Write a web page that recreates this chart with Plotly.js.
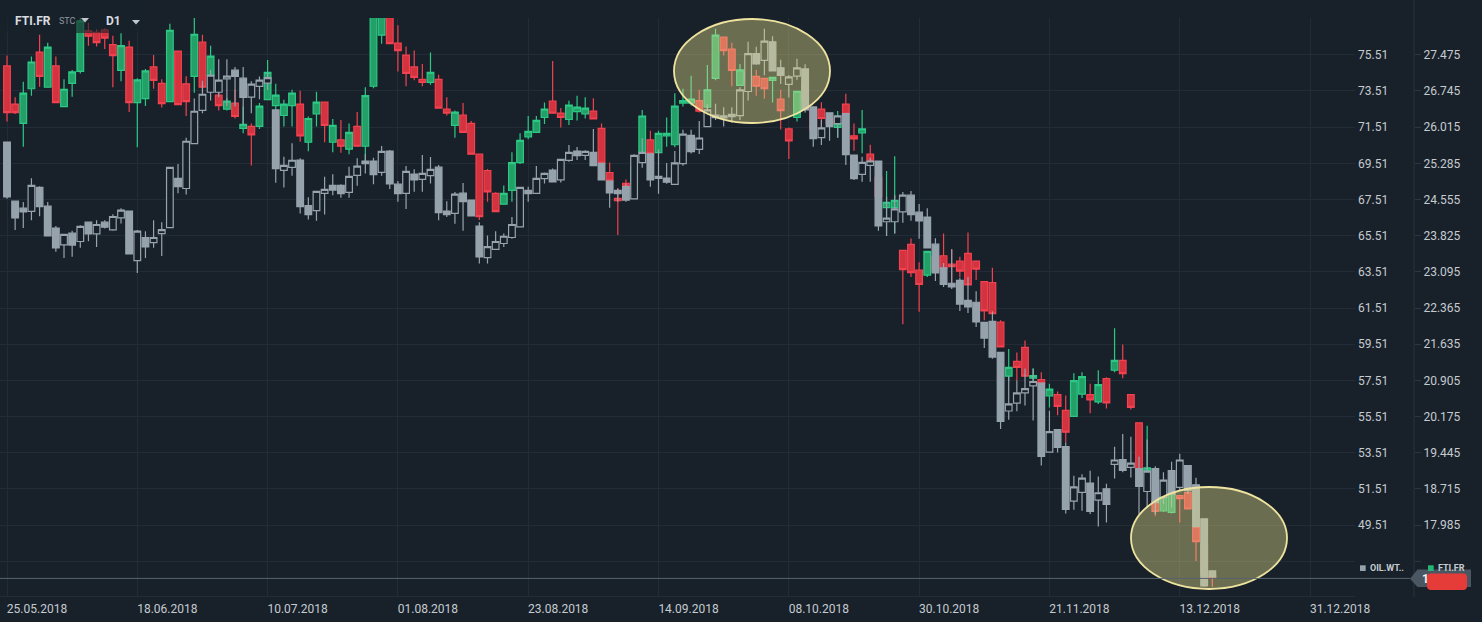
<!DOCTYPE html>
<html>
<head>
<meta charset="utf-8">
<script src="https://cdn.plot.ly/plotly-3.0.1.min.js"></script>
<style>
  html, body { margin: 0; padding: 0; background: #18212a; }
  #chart { width: 1482px; height: 622px; }
</style>
</head>
<body>
<div id="chart"></div>
<script>
// ---------------- DATA ----------------
// Daily candles (trading days starting 25.05.2018)
const oilOpen  = [70.69,67.42,67.03,66.85,68.18,67.14,65.93,65.00,65.65,65.19,66.26,65.61,66.26,65.83,66.50,66.87,64.13,65.41,65.13,65.63,65.96,68.68,68.12,70.60,72.44,73.44,73.44,74.18,74.66,74.22,73.17,73.76,73.94,72.46,69.12,69.29,69.69,67.18,66.90,67.85,68.29,68.29,67.90,68.84,69.64,69.64,69.01,70.19,68.36,67.85,68.92,68.62,68.83,69.30,66.87,66.74,67.86,67.48,66.04,64.30,64.75,65.08,65.41,66.00,68.01,67.85,68.66,69.14,68.60,69.67,70.19,69.95,70.12,69.51,68.53,68.01,68.22,67.55,69.55,70.03,68.68,68.70,68.35,69.49,71.06,70.28,71.54,72.17,72.02,72.09,72.15,73.48,75.58,75.20,76.23,74.79,73.87,74.33,74.73,72.63,70.93,72.30,71.71,72.26,69.97,68.90,69.40,69.64,66.28,66.28,66.83,67.75,66.81,66.54,65.04,63.73,62.88,63.04,61.94,61.83,60.72,60.77,59.06,55.82,56.25,56.82,57.21,57.36,53.55,54.79,53.85,50.84,51.32,51.84,50.89,51.52,52.87,53.13,52.70,52.63,51.37,52.63,51.04,52.52,51.60,52.80,51.74,49.86,46.98];
const oilHigh  = [70.70,67.42,67.37,68.68,68.25,67.37,66.04,65.58,65.78,66.09,66.26,66.37,66.37,66.70,67.03,66.87,65.82,65.76,66.37,66.26,69.30,69.47,70.93,73.09,74.07,74.68,75.27,75.27,74.83,74.83,74.05,74.31,74.49,72.47,69.88,70.62,69.79,67.63,67.96,68.77,68.90,68.36,69.32,69.79,70.03,69.82,70.47,70.25,68.53,69.36,69.18,69.97,69.86,69.42,67.42,67.92,68.42,67.49,66.26,65.52,65.76,65.63,66.54,68.19,68.22,69.36,69.01,69.23,69.77,70.52,70.41,70.23,71.41,69.52,68.54,68.12,68.40,70.01,70.89,70.04,70.28,69.53,70.19,71.36,71.36,71.85,72.80,72.80,72.61,72.61,73.72,76.23,75.95,76.95,76.53,75.23,74.40,75.29,74.99,72.64,71.91,72.31,72.14,72.27,69.98,69.88,69.82,69.65,67.66,67.75,67.92,67.98,67.26,67.03,65.37,64.00,64.76,63.19,63.23,62.44,60.73,61.33,59.07,57.74,57.50,58.17,58.15,57.37,55.84,54.80,54.09,52.24,52.33,52.52,52.20,51.80,53.85,54.55,54.40,53.29,54.24,52.76,52.43,53.02,53.46,52.81,52.13,49.87,47.01];
const oilLow   = [67.55,65.82,65.94,66.37,66.59,65.50,64.62,64.28,64.34,64.84,65.20,64.89,65.91,65.78,66.18,64.47,63.45,64.28,64.84,64.39,65.95,67.85,67.79,70.59,72.28,72.98,73.17,72.65,72.65,71.69,72.28,73.05,73.57,68.44,68.18,68.83,66.74,66.41,66.33,66.68,67.75,67.61,67.61,68.27,68.95,68.35,68.83,68.09,67.39,66.98,67.94,67.94,68.40,66.37,66.55,66.17,65.78,66.60,63.97,63.97,64.73,64.89,65.34,65.99,67.39,67.84,68.40,68.48,68.45,69.60,69.69,69.69,69.37,68.58,67.05,67.39,67.39,67.54,69.27,68.22,67.83,68.38,68.34,69.38,70.06,70.03,71.53,71.91,71.54,71.76,71.91,72.98,74.96,74.38,74.61,73.90,73.15,74.13,72.32,70.43,70.52,70.76,70.93,69.42,68.59,68.49,68.49,65.78,65.50,65.63,66.22,66.33,65.34,64.83,63.01,62.68,62.57,61.35,61.24,60.46,59.30,58.71,54.83,55.33,55.80,56.12,55.29,52.80,53.54,53.53,50.15,50.36,50.30,50.12,49.43,49.65,52.09,52.43,52.15,50.12,50.49,50.12,50.67,50.49,51.41,51.23,49.42,46.11,46.52];
const oilClose = [67.66,66.50,66.83,68.29,67.11,65.50,64.84,65.58,64.99,66.02,65.61,66.13,65.98,66.57,66.92,64.50,65.76,64.89,65.41,65.85,69.29,68.22,70.73,72.39,73.33,74.38,74.11,74.33,74.31,73.15,73.89,74.11,74.25,69.21,69.40,69.68,67.11,66.68,67.96,68.07,68.03,67.83,68.79,69.36,69.49,68.88,70.17,68.38,67.83,69.07,68.60,68.95,69.18,66.78,66.67,67.81,67.39,66.61,64.34,64.91,65.19,65.48,66.13,68.18,67.83,68.68,68.95,68.49,69.73,70.12,69.93,70.17,69.38,68.59,67.88,67.83,67.48,69.95,70.12,68.59,68.79,68.47,69.53,71.12,70.15,70.91,72.46,72.04,72.13,72.22,73.57,75.57,75.01,76.27,74.62,74.37,74.29,74.79,72.46,70.88,71.47,71.54,72.13,69.99,68.66,69.56,69.64,66.05,66.48,66.99,67.75,66.67,66.33,64.84,63.45,62.82,62.68,61.73,61.57,60.74,59.85,58.80,55.25,56.21,56.82,57.06,57.45,53.31,54.68,53.81,50.38,51.63,52.11,50.27,51.30,50.65,53.11,52.54,52.94,51.65,52.50,50.76,52.00,51.23,53.11,51.41,49.43,46.15,46.65];

const ftiOpen  = [27.25,26.48,26.09,26.79,27.53,26.82,27.25,26.43,26.90,27.14,27.96,27.93,27.98,27.68,27.16,27.63,26.51,26.59,27.23,26.90,26.53,27.55,26.89,27.04,27.73,27.06,26.66,26.38,26.50,25.99,26.03,26.03,26.57,26.45,26.25,26.45,26.48,25.71,26.28,26.52,25.71,25.76,25.57,26.03,25.63,26.84,27.87,28.35,27.71,27.47,27.23,26.98,26.92,26.98,26.38,26.05,26.26,26.09,25.47,25.14,24.68,24.46,24.74,25.30,25.82,25.91,26.21,26.54,26.30,26.17,26.33,26.28,26.34,25.99,25.10,24.58,24.88,24.88,25.50,25.76,25.50,25.84,25.66,26.50,26.50,26.55,26.42,27.00,27.83,27.59,26.86,26.95,27.04,27.00,26.96,26.58,25.98,26.21,26.90,26.36,26.38,26.20,26.01,26.48,25.84,25.90,25.47,25.00,24.39,24.39,23.53,23.65,23.13,23.03,23.40,23.42,23.25,23.31,23.47,23.31,22.90,22.88,22.08,20.99,21.29,21.57,20.95,20.92,20.59,20.62,20.30,20.18,20.63,20.62,20.47,20.94,21.11,21.31,20.62,20.05,19.08,18.48,18.27,18.24,18.58,18.64,17.94,17.60,16.96];
const ftiHigh  = [27.46,26.62,26.93,27.44,27.88,27.72,27.44,26.98,27.17,28.25,28.12,27.99,28.01,27.86,27.91,27.76,27.00,27.19,27.47,26.98,28.10,27.56,27.04,28.25,27.88,27.66,26.77,26.60,26.77,26.43,26.09,26.50,27.37,26.89,26.57,26.77,26.75,26.23,26.73,26.53,26.18,26.16,26.09,26.32,26.82,28.40,28.45,28.45,28.07,27.64,27.56,27.29,27.52,27.07,26.62,26.35,26.50,26.14,25.48,25.17,24.70,24.84,25.51,25.89,26.24,26.24,26.51,27.35,26.40,26.55,26.65,26.62,26.60,26.09,25.30,24.78,24.96,25.25,26.36,25.94,25.94,26.21,26.70,26.79,27.05,26.77,27.27,28.00,27.84,27.72,27.29,27.15,27.17,27.01,27.03,26.77,26.01,26.75,26.95,26.40,26.52,26.28,26.34,26.69,26.09,26.36,25.66,25.10,25.13,25.43,23.54,23.77,23.29,23.52,23.45,23.87,23.55,23.40,23.89,23.33,22.91,23.18,22.12,21.54,21.47,21.71,21.15,21.07,20.84,20.68,20.60,21.05,21.07,20.84,21.11,20.97,21.96,21.63,20.63,20.06,19.99,18.49,18.57,18.65,18.59,18.65,17.95,17.65,17.07];
const ftiLow   = [26.13,26.28,25.62,26.65,26.83,26.81,26.50,26.42,26.63,27.10,27.66,27.64,27.59,26.82,26.94,26.32,25.61,26.44,26.79,26.41,26.53,26.46,26.24,26.71,26.71,26.89,26.35,26.35,26.19,25.89,25.24,25.98,26.56,26.23,26.03,26.03,25.72,25.53,26.03,25.71,25.51,25.50,25.47,25.62,25.28,26.80,27.70,27.69,27.14,26.84,26.96,26.84,26.87,26.39,26.25,25.80,25.90,25.46,24.14,24.51,24.30,24.45,24.51,25.27,25.77,25.90,26.08,26.29,26.01,26.06,26.15,26.19,26.17,25.28,24.75,23.84,24.81,24.85,25.50,25.47,25.49,25.62,25.61,26.43,26.45,26.31,26.36,26.96,27.46,26.84,26.85,26.90,26.65,26.59,26.51,25.97,25.37,26.13,26.50,25.90,25.99,26.03,25.80,26.27,25.54,25.49,25.31,24.55,23.82,23.87,22.04,22.99,22.29,22.99,23.05,23.15,22.79,22.99,22.82,22.93,22.12,22.24,21.57,20.90,20.90,20.98,20.90,20.83,20.36,20.20,19.66,20.17,20.55,20.24,20.43,20.34,21.07,20.95,20.32,19.05,19.06,18.17,18.25,18.22,18.04,18.30,17.26,16.95,16.74];
const ftiClose = [26.31,26.31,26.70,27.33,27.04,27.63,26.51,26.78,27.13,28.16,27.85,27.72,27.81,27.46,27.66,26.51,26.97,27.15,26.96,26.49,27.97,26.47,26.53,27.89,26.82,27.45,26.45,26.54,26.23,26.07,25.86,26.44,27.12,26.66,26.48,26.70,25.84,26.19,26.52,26.05,26.05,25.63,25.91,25.63,26.65,28.30,28.35,27.70,27.56,27.10,27.02,26.92,27.12,26.40,26.30,26.32,25.91,25.47,24.21,24.71,24.31,24.68,25.30,25.75,25.93,26.15,26.38,26.30,26.21,26.46,26.42,26.40,26.18,25.29,24.93,24.53,24.82,25.22,26.24,25.48,25.89,25.89,26.44,26.55,26.58,26.34,26.77,27.87,27.56,27.16,27.17,27.10,26.84,26.79,27.02,26.35,25.74,26.74,26.57,25.96,26.19,26.08,26.09,26.28,25.78,25.98,25.32,24.62,24.50,24.54,23.14,23.08,22.84,23.51,23.13,23.16,23.20,23.11,22.83,23.15,22.31,22.25,21.58,21.17,21.17,20.99,21.00,20.84,20.73,20.38,19.86,20.90,20.98,20.51,20.82,20.45,21.31,21.04,20.36,19.08,19.14,18.26,18.56,18.64,18.52,18.31,17.65,16.99,16.91];

// Axis tick labels
const xTickLabels = ['25.05.2018','18.06.2018','10.07.2018','01.08.2018','23.08.2018','14.09.2018','08.10.2018','30.10.2018','21.11.2018','13.12.2018','31.12.2018'];
const barsPerTick = 16;
const oilTicks = [75.51,73.51,71.51,69.51,67.51,65.51,63.51,61.51,59.51,57.51,55.51,53.51,51.51,49.51,47.51];
const oilTickText = ['75.51','73.51','71.51','69.51','67.51','65.51','63.51','61.51','59.51','57.51','55.51','53.51','51.51','49.51',''];
const ftiTicks = [27.475,26.745,26.015,25.285,24.555,23.825,23.095,22.365,21.635,20.905,20.175,19.445,18.715,17.985,17.255];
const ftiTickText = ['27.475','26.745','26.015','25.285','24.555','23.825','23.095','22.365','21.635','20.905','20.175','19.445','18.715','17.985',''];
const seriesNames = ['OIL.WT..', 'FTI.FR'];

// ---------------- LAYOUT HELPERS ----------------
const W = 1482, H = 622, TOP = 18, BOT = 596;
const px = v => v / W;
const py = v => (BOT - v) / (BOT - TOP);
const BG = '#18212a';
const GRID = '#222c36';
const TXT = '#c6cbd0';
const FONT = 'Roboto, "Open Sans", sans-serif';

const idx = oilOpen.map((_, i) => i);

const ftiTrace = {
  type: 'candlestick', x: idx, open: ftiOpen, high: ftiHigh, low: ftiLow, close: ftiClose,
  xaxis: 'x', yaxis: 'y', name: seriesNames[1], hoverinfo: 'skip', whiskerwidth: 0,
  increasing: { line: { color: '#2cc985', width: 1.2 }, fillcolor: '#23a068' },
  decreasing: { line: { color: '#f2414f', width: 1.2 }, fillcolor: '#d3323f' }
};
const oilTrace = {
  type: 'candlestick', x: idx, open: oilOpen, high: oilHigh, low: oilLow, close: oilClose,
  xaxis: 'x', yaxis: 'y2', name: seriesNames[0], hoverinfo: 'skip', whiskerwidth: 0,
  increasing: { line: { color: '#97a4ae', width: 1.2 }, fillcolor: BG },
  decreasing: { line: { color: '#97a4ae', width: 1.2 }, fillcolor: '#95a2ac' }
};

const lastFti = ftiClose[ftiClose.length - 1];

function rrect(x0, y0, x1, y1, r) {
  const X = px, Y = py;
  return `M ${X(x0 + r)},${Y(y0)} L ${X(x1 - r)},${Y(y0)} Q ${X(x1)},${Y(y0)} ${X(x1)},${Y(y0 + r)} ` +
         `L ${X(x1)},${Y(y1 - r)} Q ${X(x1)},${Y(y1)} ${X(x1 - r)},${Y(y1)} L ${X(x0 + r)},${Y(y1)} ` +
         `Q ${X(x0)},${Y(y1)} ${X(x0)},${Y(y1 - r)} L ${X(x0)},${Y(y0 + r)} Q ${X(x0)},${Y(y0)} ${X(x0 + r)},${Y(y0)} Z`;
}
function poly(pts) {
  return 'M ' + pts.map(p => `${px(p[0])},${py(p[1])}`).join(' L ') + ' Z';
}

const shapes = [
  // header dim band
  { type: 'rect', xref: 'paper', yref: 'paper', x0: px(0), x1: px(142), y0: py(33), y1: py(0),
    fillcolor: 'rgba(24,33,42,0.6)', line: { width: 0 }, layer: 'above' },
  // highlight ellipses
  { type: 'circle', xref: 'paper', yref: 'paper', x0: px(674), x1: px(830), y0: py(123), y1: py(19),
    fillcolor: 'rgba(232,226,140,0.40)', line: { color: '#eee4a0', width: 1.8 }, layer: 'above' },
  { type: 'circle', xref: 'paper', yref: 'paper', x0: px(1131), x1: px(1287), y0: py(589), y1: py(487),
    fillcolor: 'rgba(232,226,140,0.40)', line: { color: '#eee4a0', width: 1.8 }, layer: 'above' },
  // last price line
  { type: 'line', xref: 'paper', yref: 'y', x0: 0, x1: px(1410), y0: lastFti, y1: lastFti,
    line: { color: '#56626d', width: 1 }, layer: 'above' },
  // separator line for second axis
  { type: 'line', xref: 'paper', yref: 'paper', x0: px(1414), x1: px(1414), y0: py(597), y1: py(0),
    line: { color: '#2a343e', width: 1 } },
  // price tag
  { type: 'path', xref: 'paper', yref: 'paper',
    path: poly([[1410, 578.7], [1417.5, 569.5], [1471, 569.5], [1471, 587], [1417.5, 587]]),
    fillcolor: '#4a5661', line: { width: 0 } },
  { type: 'path', xref: 'paper', yref: 'paper', path: rrect(1427, 573.5, 1467, 590, 4),
    fillcolor: '#e53b39', line: { width: 0 } },
  // legend squares
  { type: 'rect', xref: 'paper', yref: 'paper', x0: px(1360), x1: px(1365.7), y0: py(571), y1: py(565.3),
    fillcolor: '#95a2ac', line: { width: 0 } },
  { type: 'rect', xref: 'paper', yref: 'paper', x0: px(1428), x1: px(1433.7), y0: py(571), y1: py(565.3),
    fillcolor: '#23b575', line: { width: 0 } },
  // header dropdown triangles
  { type: 'path', xref: 'paper', yref: 'paper', path: poly([[81, 18], [89, 18], [85, 22.5]]),
    fillcolor: '#c3c8cd', line: { width: 0 } },
  { type: 'path', xref: 'paper', yref: 'paper', path: poly([[132, 20], [140, 20], [136, 24.5]]),
    fillcolor: '#c3c8cd', line: { width: 0 } }
];

const annotations = [
  { text: '<b>FTI.FR</b>', xref: 'paper', yref: 'paper', x: px(13), y: py(20.5), xanchor: 'left', yanchor: 'middle',
    showarrow: false, font: { family: FONT, size: 12, color: '#d9dde1' } },
  { text: 'STC', xref: 'paper', yref: 'paper', x: px(57), y: py(21), xanchor: 'left', yanchor: 'middle',
    showarrow: false, font: { family: FONT, size: 9, color: '#8e979f' } },
  { text: '<b>D1</b>', xref: 'paper', yref: 'paper', x: px(104), y: py(20.5), xanchor: 'left', yanchor: 'middle',
    showarrow: false, font: { family: FONT, size: 12, color: '#d9dde1' } },
  { text: '<b>' + seriesNames[0] + '</b>', xref: 'paper', yref: 'paper', x: px(1368), y: py(568), xanchor: 'left', yanchor: 'middle',
    showarrow: false, font: { family: FONT, size: 9, color: '#c6cbd0' } },
  { text: '<b>' + seriesNames[1] + '</b>', xref: 'paper', yref: 'paper', x: px(1436), y: py(568), xanchor: 'left', yanchor: 'middle',
    showarrow: false, font: { family: FONT, size: 9, color: '#c6cbd0' } },
  { text: '<b>1</b>', xref: 'paper', yref: 'paper', x: px(1420), y: py(578.5), xanchor: 'left', yanchor: 'middle',
    showarrow: false, font: { family: FONT, size: 12, color: '#eef0f2' } }
];

const layout = {
  width: W, height: H,
  paper_bgcolor: BG, plot_bgcolor: BG,
  margin: { l: 0, r: 0, t: TOP, b: H - BOT, pad: 0 },
  showlegend: false,
  boxgap: 0.18, boxgroupgap: 0, boxmode: 'overlay',
  font: { family: FONT, size: 12, color: TXT },
  xaxis: {
    domain: [0, px(1355)],
    range: [-7 / 8.144, (1355 - 7) / 8.144],
    rangeslider: { visible: false },
    tickmode: 'array',
    tickvals: xTickLabels.map((_, k) => k * barsPerTick),
    ticktext: xTickLabels,
    ticks: '', ticklabelshift: 30, ticklabelstandoff: 2,
    showgrid: true, gridcolor: GRID, gridwidth: 1,
    showline: true, linecolor: GRID, zeroline: false,
    tickfont: { family: FONT, size: 12, color: TXT },
    fixedrange: true
  },
  yaxis: {
    range: [16.555, 28.2175],
    anchor: 'free', position: px(1414), side: 'right',
    tickmode: 'array', tickvals: ftiTicks, ticktext: ftiTickText,
    ticks: 'outside', ticklen: 6, tickcolor: '#2c3640', tickwidth: 1,
    showgrid: false, zeroline: false, showline: false,
    tickfont: { family: FONT, size: 12, color: TXT },
    fixedrange: true
  },
  yaxis2: {
    range: [45.593, 77.544],
    overlaying: 'y', anchor: 'x', side: 'right',
    tickmode: 'array', tickvals: oilTicks, ticktext: oilTickText,
    ticks: '', ticklabelstandoff: 2,
    showgrid: true, gridcolor: GRID, gridwidth: 1, zeroline: false, showline: false,
    tickfont: { family: FONT, size: 12, color: TXT },
    fixedrange: true
  },
  shapes: shapes,
  annotations: annotations
};

Plotly.newPlot('chart', [ftiTrace, oilTrace], layout, { staticPlot: true, displayModeBar: false });
</script>
</body>
</html>
